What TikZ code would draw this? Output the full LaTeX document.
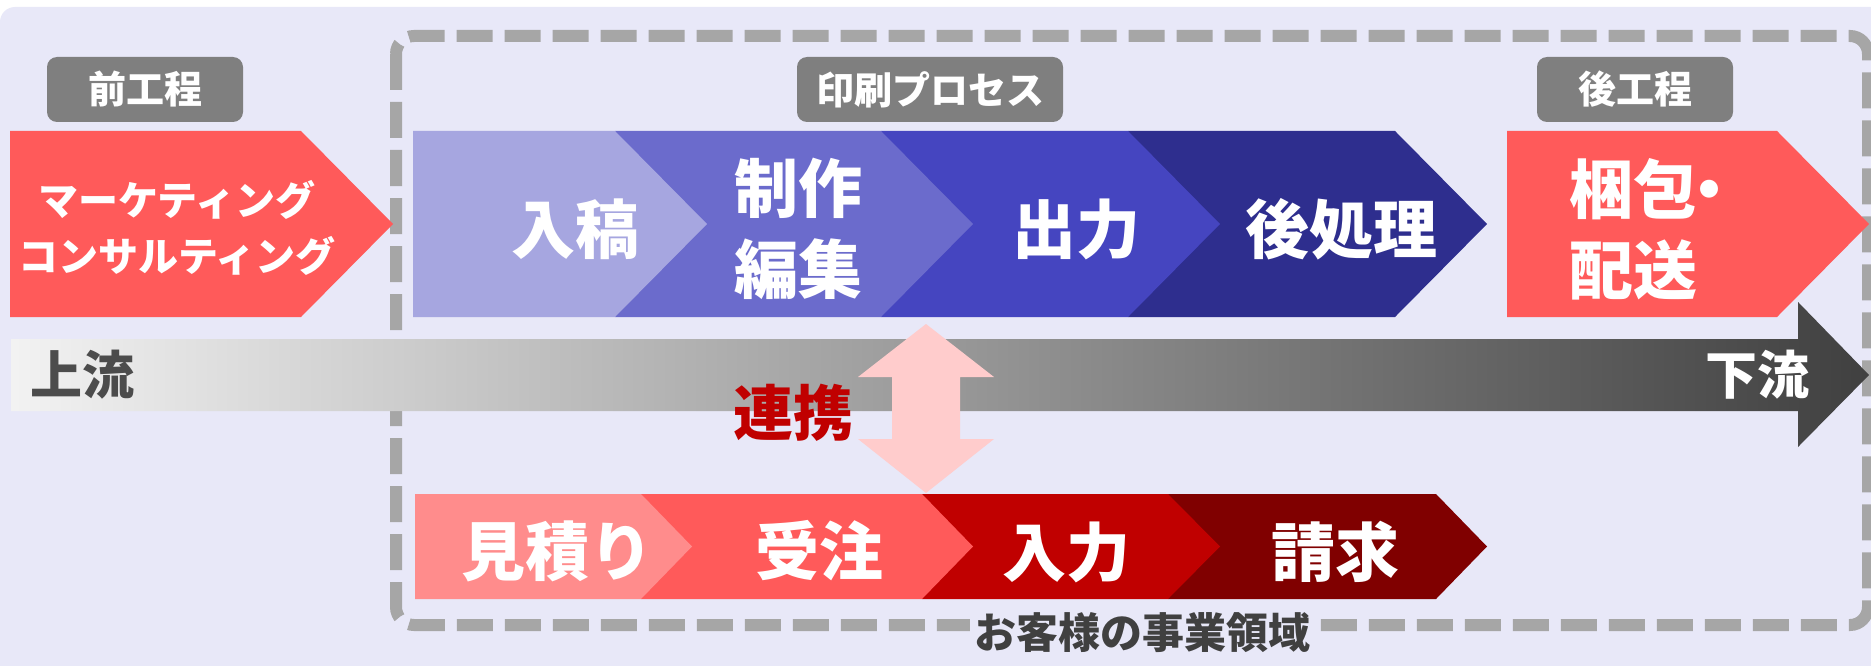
\documentclass[tikz,border=0pt]{standalone}
\usepackage{fontspec}
\setmainfont{Noto Sans CJK JP}[BoldFont={Noto Sans CJK JP Black}]
\definecolor{bgc}{HTML}{E8E8F8}
\definecolor{dashc}{HTML}{A6A6A6}
\definecolor{lblc}{HTML}{7F7F7F}
\definecolor{b1}{HTML}{A6A6E0}
\definecolor{b2}{HTML}{6B6BCC}
\definecolor{b3}{HTML}{4545C0}
\definecolor{b4}{HTML}{2E2E8E}
\definecolor{r0}{HTML}{FF5A5A}
\definecolor{r1}{HTML}{FF8C8C}
\definecolor{r3}{HTML}{C00000}
\definecolor{r4}{HTML}{800000}
\definecolor{pinkc}{HTML}{FFCCCC}
\definecolor{txtdark}{HTML}{404040}
\newcommand\chevshape[6]{\fill[#6] (#1,#4) -- (#2,#4) -- (#3,{(#4+#5)/2}) -- (#2,#5) -- (#1,#5) -- cycle;}
\tikzset{
  chevtext/.style={text=white, font=\bfseries\fontsize{64}{81}\selectfont, align=center, inner sep=0pt},
  lbl/.style={fill=lblc, rounded corners=10pt, text=white, font=\bfseries\fontsize{38}{40}\selectfont, minimum height=65pt, inner sep=0pt},
  dashbox/.style={draw=dashc, line width=12pt, dash pattern=on 36pt off 12pt, rounded corners=18pt},
}
\begin{document}
\begin{tikzpicture}[x=1pt,y=-1pt]
\useasboundingbox (0,0) rectangle (1871,666);
\fill[white] (0,0) rectangle (1871,666);
\fill[bgc, rounded corners=15pt] (0,7) rectangle (1900,700);
% customer domain dashed frame
\draw[dashbox] (396,36) rectangle (1868,625);
% labels
\node[lbl, minimum width=196pt] (pre) at (145,89.5) {前工程};
\node[lbl, minimum width=266pt] (proc) at (930,89.5) {印刷プロセス};
\node[lbl, minimum width=196pt] (post) at (1635,89.5) {後工程};
% left and right pentagons
\chevshape{10}{301}{393}{131}{317}{r0}
\chevshape{1507}{1777}{1869}{131}{317}{r0}
% top row (right to left)
\chevshape{1128}{1395}{1487}{131}{317}{b4}
\chevshape{881}{1128}{1220}{131}{317}{b3}
\chevshape{615}{881}{973}{131}{317}{b2}
\chevshape{413}{615}{707}{131}{317}{b1}
% bottom row (right to left)
\chevshape{1168}{1436}{1487}{494}{599}{r4}
\chevshape{922}{1168}{1220}{494}{599}{r3}
\chevshape{641}{922}{973}{494}{599}{r0}
\chevshape{415}{641}{692}{494}{599}{r1}
% flow arrow
\shade[left color=black!5, middle color=black!36, right color=black!75, shading angle=90]
  (11,339) -- (1798,339) -- (1798,302) -- (1869,375) -- (1798,447) -- (1798,411) -- (11,411) -- cycle;
% link arrow
\fill[pinkc] (926,324) -- (994,377) -- (960,377) -- (960,439) -- (994,439) -- (926,493)
  -- (858,439) -- (892,439) -- (892,377) -- (858,377) -- cycle;
% texts
\node[chevtext, font=\bfseries\fontsize{40}{56}\selectfont] (mkt) at (177,228) {マーケティング\\コンサルティング};
\node[chevtext] (nyuko) at (575,229) {入稿};
\node[chevtext] (seisaku) at (798,229) {制作\\編集};
\node[chevtext] (shutsu) at (1076,229) {出力};
\node[chevtext] (atosho) at (1341,229) {後処理};
\node[chevtext, align=left, anchor=west] (konpo) at (1569,229) {梱包\kern-20pt・\\配送};
\node[chevtext] (mitsu) at (557,551) {見積り};
\node[chevtext] (juchu) at (819,551) {受注};
\node[chevtext] (nyuryoku) at (1066,552) {入力};
\node[chevtext] (seikyu) at (1335,552) {請求};
\node[inner sep=0pt, anchor=west, text=black!70, font=\bfseries\fontsize{52}{56}\selectfont] (up) at (30,375) {上流};
\node[inner sep=0pt, anchor=east, text=white, font=\bfseries\fontsize{52}{56}\selectfont] (down) at (1810,375) {下流};
\node[inner sep=0pt, text=r3, font=\bfseries\fontsize{60}{64}\selectfont] (renkei) at (793,413) {連携};
\node[inner sep=4pt, fill=bgc, text=txtdark, font=\bfseries\fontsize{42}{46}\selectfont] (domain) at (1142,633) {お客様の事業領域};
\end{tikzpicture}
\end{document}
